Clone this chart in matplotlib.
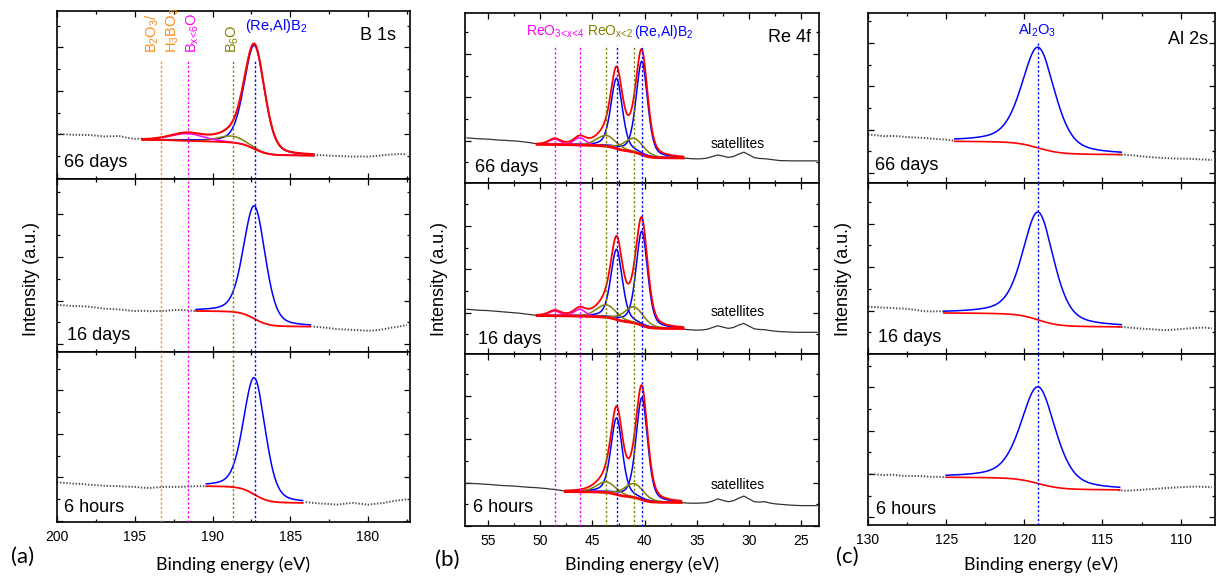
import numpy as np
import matplotlib.pyplot as plt
from matplotlib.ticker import MultipleLocator

plt.rcParams['font.family'] = ['Liberation Sans', 'DejaVu Sans']
plt.rcParams['mathtext.fontset'] = 'custom'
plt.rcParams['mathtext.rm'] = 'Liberation Sans'
plt.rcParams['mathtext.it'] = 'Liberation Sans:italic'
plt.rcParams['mathtext.bf'] = 'Liberation Sans:bold'

W, H = 1217, 577
N = np.nan

SAMPLES = ["66 days", "16 days", "6 hours"]

# ---------------- (a) B 1s ----------------
b1s_energy = np.arange(200, 177.4, -0.5)
b1s_data = [
    [2.08, 2.06, 2.04, 2.03, 2.03, 2.00, 1.96, 1.97, 1.98, 1.90, 1.85, 1.86]
    + [N] * 21
    + [1.09, 1.10, 1.08, 1.06, 1.05, 1.03, 1.04, 1.03, 1.06, 1.10, 1.13, 1.15, 1.14],
    [2.17, 2.15, 2.12, 2.11, 2.09, 2.05, 2.00, 1.98, 1.96, 1.92, 1.89, 1.90,
     1.88, 1.89, 1.90, 1.93, 1.94, 1.91, 1.89]
    + [N] * 14
    + [1.17, 1.14, 1.10, 1.05, 1.04, 1.02, 1.00, 0.98, 1.00, 1.05, 1.12, 1.17, 1.25],
    [1.83, 1.80, 1.77, 1.76, 1.72, 1.70, 1.67, 1.66, 1.65, 1.63, 1.62, 1.58,
     1.57, 1.60, 1.62, 1.62, 1.62, 1.64, 1.65, 1.65]
    + [N] * 12
    + [0.91, 0.88, 0.85, 0.83, 0.80, 0.84, 0.88, 0.84, 0.80, 0.84, 0.88, 0.95, 1.00, 1.05],
]
b1s_fit_range = [(194.5, 183.5), (191.05, 183.7), (190.4, 184.2)]
b1s_bg_ends = [(1.80, 1.08), (1.89, 1.17), (1.65, 0.88)]   # (high BE, low BE)
b1s_centers = [187.3, 188.8, 191.6]
b1s_colors = ['#0000FF', '#808000', '#FF00FF']
b1s_amps = [[4.77, 0.30, 0.33], [5.20, 0, 0], [5.38, 0, 0]]
b1s_fwhm = [[1.55, 2.0, 2.5], [1.65, 2.0, 2.5], [1.65, 2.0, 2.5]]
b1s_mix = [0.3, 0.3, 0.3]
b1s_ytick_offset = [0.06, 0.37, 0.06]

# ---------------- (b) Re 4f ----------------
re4f_energy = np.arange(57, 23.4, -0.5)
re4f_data = [
    [2.08, 2.06, 2.04, 2.03, 2.02, 2.00, 1.98, 1.97, 1.95, 1.94, 1.92, 1.89, 1.86, 1.82, 1.79]
    + [N] * 26
    + [1.15, 1.14, 1.12, 1.11, 1.12, 1.15, 1.22, 1.29, 1.24, 1.18, 1.22, 1.33, 1.42, 1.30,
       1.17, 1.13, 1.12, 1.09, 1.06, 1.03, 1.03, 1.02, 1.02, 1.02, 1.02, 1.02, 1.02],
    [2.06, 2.04, 2.02, 2.01, 2.00, 1.98, 1.96, 1.94, 1.92, 1.90, 1.88, 1.85, 1.82, 1.79, 1.77]
    + [N] * 26
    + [1.16, 1.13, 1.11, 1.10, 1.11, 1.14, 1.22, 1.30, 1.24, 1.18, 1.22, 1.33, 1.41, 1.28,
       1.16, 1.13, 1.12, 1.08, 1.05, 1.03, 1.02, 1.01, 1.00, 1.00, 1.00, 1.00, 1.00],
    [1.97, 1.96, 1.95, 1.93, 1.92, 1.90, 1.88, 1.86, 1.85, 1.84, 1.82, 1.80, 1.78, 1.77,
     1.75, 1.73, 1.70, 1.68, 1.64, 1.60]
    + [N] * 21
    + [1.08, 1.06, 1.05, 1.05, 1.06, 1.08, 1.15, 1.25, 1.18, 1.12, 1.16, 1.28, 1.38, 1.25,
       1.12, 1.10, 1.12, 1.06, 1.02, 1.00, 0.98, 0.96, 0.95, 0.94, 0.94, 0.94, 0.94],
]
re4f_fit_range = [(50.3, 36.3), (50.3, 36.3), (47.6, 36.5)]
re4f_bg_ends = [(1.78, 1.15), (1.77, 1.17), (1.58, 1.08)]
re4f_centers = [40.26, 42.68, 41.0, 43.67, 46.2, 48.6]
re4f_colors = ['#0000FF', '#0000FF', '#808000', '#808000', '#FF00FF', '#FF00FF']
re4f_amps = [[4.30, 3.24, 0.63, 0.50, 0.34, 0.25],
             [4.34, 3.24, 0.74, 0.58, 0.32, 0.22],
             [4.70, 3.53, 0.64, 0.49, 0, 0]]
re4f_fwhm = [[1.3, 1.3, 2.2, 2.2, 1.3, 1.3]] * 3
re4f_mix = [0.4, 0.4, 0.3, 0.3, 0.3, 0.3]
re4f_ytick_offset = [-0.05, -0.1, 0.0]

# ---------------- (c) Al 2s ----------------
al2s_energy = np.arange(130, 107.9, -0.5)
al2s_data = [
    [2.23, 2.20, 2.16, 2.17, 2.15, 2.12, 2.10, 2.08, 2.05, 2.02, 2.00, 1.95]
    + [N] * 20
    + [1.31, 1.30, 1.27, 1.23, 1.20, 1.17, 1.15, 1.13, 1.12, 1.12, 1.10, 1.08, 1.06],
    [2.17, 2.16, 2.14, 2.12, 2.10, 2.08, 2.04, 1.98, 1.96, 1.97, 1.96]
    + [N] * 21
    + [1.25, 1.23, 1.20, 1.17, 1.15, 1.12, 1.10, 1.12, 1.15, 1.18, 1.20, 1.22, 1.18],
    [2.35, 2.33, 2.30, 2.32, 2.28, 2.26, 2.26, 2.25, 2.22, 2.22, 2.20]
    + [N] * 21
    + [1.60, 1.58, 1.60, 1.62, 1.65, 1.67, 1.70, 1.72, 1.74, 1.76, 1.77, 1.76, 1.74],
]
al2s_fit_range = [(124.45, 113.8), (125.15, 113.8), (125.0, 113.9)]
al2s_bg_ends = [(1.92, 1.31), (1.89, 1.25), (2.20, 1.62)]
al2s_centers = [119.1]
al2s_colors = ['#0000FF']
al2s_amps = [[4.64], [4.97], [4.46]]
al2s_fwhm = [[2.5], [2.35], [2.6]]
al2s_mix = [0.45]
al2s_ytick_offset = [0.46, 0.0, 0.35]

# reference lines (energy, colour)
b1s_lines = [(193.3, '#FF8C1A'), (191.6, '#FF00FF'), (188.7, '#808000'), (187.27, '#0000FF')]
re4f_lines = [(48.6, '#FF00FF'), (46.2, '#FF00FF'), (43.67, '#808000'),
              (42.68, '#0000FF'), (41.0, '#808000'), (40.26, '#0000FF')]
al2s_lines = [(119.1, '#0000FF')]

RED = '#FF0000'
PX_PER_UNIT = 21.7


def gl(e, c, a, w, m):
    x = (e - c) / w
    return a * ((1 - m) * np.exp(-4 * np.log(2) * x ** 2) + m / (1 + 4 * x ** 2))


def shirley(e, total, hi, lo):
    # e ascending; step grows with the peak area on the low-BE side
    cum = np.concatenate([[0], np.cumsum(0.5 * (total[1:] + total[:-1]) * np.diff(e))])
    return lo + (hi - lo) * cum / cum[-1]


def fx(px):
    return px / W


def fy(py):
    return 1 - py / H


fig = plt.figure(figsize=(W / 100, H / 100), dpi=100)

panels = [
    dict(left=57, right=410, rows=[11, 179, 352, 522], xlim=(200, 177.3),
         energy=b1s_energy, data=b1s_data, fit=b1s_fit_range, bg=b1s_bg_ends,
         centers=b1s_centers, colors=b1s_colors, amps=b1s_amps, fwhm=b1s_fwhm,
         mix=b1s_mix, yoff=b1s_ytick_offset, lines=b1s_lines, line_top=60,
         dots=True, env_lw=1.5, bg_lw=1.3),
    dict(left=465, right=819, rows=[13, 183, 354, 526], xlim=(57.2, 23.3),
         energy=re4f_energy, data=re4f_data, fit=re4f_fit_range, bg=re4f_bg_ends,
         centers=re4f_centers, colors=re4f_colors, amps=re4f_amps, fwhm=re4f_fwhm,
         mix=re4f_mix, yoff=re4f_ytick_offset, lines=re4f_lines, line_top=45,
         dots=False, env_lw=1.3, bg_lw=1.9),
    dict(left=868, right=1215, rows=[13, 183, 354, 525], xlim=(130, 107.8),
         energy=al2s_energy, data=al2s_data, fit=al2s_fit_range, bg=al2s_bg_ends,
         centers=al2s_centers, colors=al2s_colors, amps=al2s_amps, fwhm=al2s_fwhm,
         mix=al2s_mix, yoff=al2s_ytick_offset, lines=al2s_lines, line_top=43,
         dots=True, env_lw=1.5, bg_lw=1.2),
]

for p in panels:
    for row in range(3):
        top, bottom = p['rows'][row], p['rows'][row + 1]
        ax = fig.add_axes([fx(p['left']), fy(bottom), fx(p['right'] - p['left']),
                           (bottom - top) / H])
        ax.set_xlim(*p['xlim'])
        ax.set_ylim(0, (bottom - top) / PX_PER_UNIT)

        # measured data
        if p['dots']:
            ax.plot(p['energy'], p['data'][row], color='0.3', lw=1.4,
                    ls=(0, (0.7, 0.9)), zorder=2)
        else:
            ax.plot(p['energy'], p['data'][row], color='0.2', lw=0.9, zorder=2)

        # fit
        lo_e, hi_e = min(p['fit'][row]), max(p['fit'][row])
        e = np.linspace(lo_e, hi_e, 600)
        comps = []
        for c, col, a, w, m in zip(p['centers'], p['colors'], p['amps'][row],
                                   p['fwhm'][row], p['mix']):
            if a > 0:
                comps.append((col, gl(e, c, a, w, m)))
        total = sum(y for _, y in comps)
        hi, lo = p['bg'][row]
        bg = shirley(e, total, hi, lo)
        for col, y in comps:
            ax.plot(e, bg + y, color=col, lw=1.1, zorder=3)
        ax.plot(e, bg, color=RED, lw=p['bg_lw'], zorder=3)
        if len(comps) > 1:
            ax.plot(e, bg + total, color=RED, lw=p['env_lw'], zorder=3)

        # reference lines
        ymax = 1.0
        if row == 0:
            ymax = (bottom - p['line_top']) / (bottom - top)
        for le, lc in p['lines']:
            ax.axvline(le, ymin=0, ymax=ymax, color=lc, lw=1.0,
                       ls=(0, (1.6, 1.6)), zorder=4)

        # axes styling
        ax.xaxis.set_major_locator(MultipleLocator(5))
        ax.xaxis.set_minor_locator(MultipleLocator(2.5))
        ax.yaxis.set_major_locator(MultipleLocator(2, offset=p['yoff'][row]))
        ax.yaxis.set_minor_locator(MultipleLocator(1, offset=p['yoff'][row]))
        ax.tick_params(which='both', direction='in', top=True, right=True,
                       labelleft=False, labelbottom=(row == 2), labelsize=10, pad=6)
        ax.tick_params(which='major', length=4.5, width=0.9)
        ax.tick_params(which='minor', length=2.5, width=0.9)
        for s in ax.spines.values():
            s.set_linewidth(1.2)

label_font = ['Lato', 'DejaVu Sans']

# sample labels
sample_pos = [
    [(64, 162), (67, 335), (64, 507)],
    [(475, 167), (478, 340), (473, 508)],
    [(875, 165), (878, 337), (876, 509)],
]
for pos in sample_pos:
    for (x, y), s in zip(pos, SAMPLES):
        fig.text(fx(x), fy(y), s, ha='left', va='center', fontsize=13)

# core level names
fig.text(fx(360), fy(35), 'B 1s', ha='left', va='center', fontsize=13)
fig.text(fx(768), fy(37), 'Re 4f', ha='left', va='center', fontsize=13)
fig.text(fx(1168), fy(40), 'Al 2s', ha='left', va='center', fontsize=13)

# satellites
for y in [144, 312, 485]:
    fig.text(fx(738), fy(y), 'satellites', ha='center', va='center', fontsize=10)

# axis labels
for x in [32, 440, 843]:
    fig.text(fx(x), fy(279), 'Intensity (a.u.)', rotation=90, ha='center',
             va='center', fontsize=13)
for x in [233, 642, 1041]:
    fig.text(fx(x), fy(565), 'Binding energy (eV)', ha='center', va='center',
             fontsize=13, family=label_font)
for x, y, s in [(23, 557, '(a)'), (447, 560, '(b)'), (847, 557, '(c)')]:
    fig.text(fx(x), fy(y), s, ha='center', va='center', fontsize=16, family=label_font)

# component labels
fig.text(fx(276), fy(26), '(Re,Al)B$_2$', color='#0000FF', ha='center', va='center',
         fontsize=10.5)
for x, s, c in [(152, 'B$_2$O$_3$/', '#FF8C1A'), (173, 'H$_3$BO$_3$', '#FF8C1A'),
                (193, 'B$_{\\mathrm{x\\!<\\!6}}$O', '#FF00FF'), (233, 'B$_6$O', '#808000')]:
    fig.text(fx(x), fy(53), s, color=c, rotation=90, ha='center', va='bottom',
             fontsize=10.5)
for x, s, c in [(526, 'ReO$_{\\mathrm{3\\!<\\!x\\!<\\!4}}$', '#FF00FF'),
                (587, 'ReO$_{\\mathrm{x\\!<\\!2}}$', '#808000'),
                (634, '(Re,Al)B$_2$', '#0000FF')]:
    fig.text(fx(x), fy(32), s, color=c, ha='left', va='center', fontsize=10)
fig.text(fx(1037), fy(30), 'Al$_2$O$_3$', color='#0000FF', ha='center', va='center',
         fontsize=10.5)

fig.savefig('out.png', dpi=100)
